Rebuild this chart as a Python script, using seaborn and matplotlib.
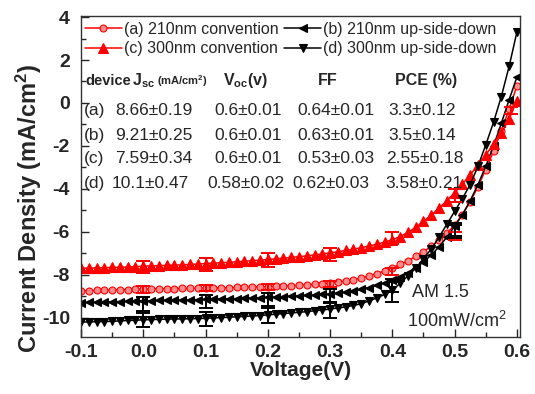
import numpy as np
import pandas as pd
import matplotlib
matplotlib.use("Agg")
import matplotlib.pyplot as plt
import seaborn as sns
from matplotlib.ticker import MultipleLocator

# ---------------- data ----------------
voltage = [-0.1, -0.0875, -0.075, -0.0625, -0.05, -0.0375, -0.025, -0.0125, 0.0,
           0.0125, 0.025, 0.0375, 0.05, 0.0625, 0.075, 0.0875, 0.1,
           0.1125, 0.125, 0.1375, 0.15, 0.1625, 0.175, 0.1875, 0.2,
           0.2125, 0.225, 0.2375, 0.25, 0.2625, 0.275, 0.2875,
           0.3, 0.3125, 0.325, 0.3375, 0.35, 0.3625, 0.375, 0.3875, 0.4,
           0.4125, 0.425, 0.4375, 0.45, 0.4625, 0.475, 0.4875, 0.5,
           0.5125, 0.525, 0.5375, 0.55, 0.5625, 0.575, 0.5875, 0.6]

j_a = [-8.75, -8.74, -8.73, -8.72, -8.71, -8.70, -8.69, -8.68, -8.67,
       -8.66, -8.66, -8.65, -8.65, -8.64, -8.63, -8.63, -8.62,
       -8.61, -8.61, -8.60, -8.59, -8.58, -8.57, -8.56, -8.55,
       -8.54, -8.53, -8.51, -8.49, -8.47, -8.45, -8.42,
       -8.38, -8.34, -8.29, -8.23, -8.15, -8.06, -7.95, -7.82, -7.68,
       -7.52, -7.35, -7.15, -6.93, -6.68, -6.40, -6.07, -5.68,
       -5.20, -4.60, -3.90, -3.10, -2.25, -1.30, -0.30, 0.80]

j_b = [-9.30, -9.29, -9.28, -9.27, -9.26, -9.25, -9.24, -9.23, -9.22,
       -9.21, -9.20, -9.20, -9.19, -9.18, -9.17, -9.16, -9.15,
       -9.14, -9.13, -9.12, -9.11, -9.10, -9.08, -9.07, -9.05,
       -9.04, -9.02, -9.00, -8.98, -8.96, -8.94, -8.92,
       -8.90, -8.86, -8.80, -8.74, -8.68, -8.60, -8.50, -8.38, -8.25,
       -8.10, -7.90, -7.68, -7.40, -7.08, -6.70, -6.25, -5.75,
       -5.20, -4.55, -3.80, -2.95, -2.00, -0.95, 0.15, 1.20]

j_c = [-7.70, -7.69, -7.68, -7.67, -7.66, -7.65, -7.64, -7.62, -7.60,
       -7.59, -7.58, -7.56, -7.55, -7.54, -7.52, -7.50, -7.48,
       -7.46, -7.44, -7.42, -7.40, -7.37, -7.35, -7.32, -7.29,
       -7.26, -7.23, -7.19, -7.16, -7.12, -7.08, -7.03,
       -6.98, -6.93, -6.87, -6.81, -6.74, -6.66, -6.58, -6.48, -6.37,
       -6.22, -6.03, -5.80, -5.52, -5.22, -4.90, -4.55, -4.18,
       -3.78, -3.35, -2.90, -2.42, -1.92, -1.40, -0.75, 0.10]

j_d = [-10.20, -10.20, -10.19, -10.18, -10.17, -10.15, -10.13, -10.12, -10.10,
       -10.09, -10.08, -10.07, -10.06, -10.06, -10.05, -10.04, -10.03,
       -10.01, -10.00, -9.98, -9.96, -9.94, -9.92, -9.90, -9.87,
       -9.84, -9.81, -9.78, -9.75, -9.72, -9.68, -9.64,
       -9.60, -9.55, -9.50, -9.43, -9.35, -9.22, -9.08, -8.92, -8.72,
       -8.40, -8.05, -7.70, -7.25, -6.80, -6.25, -5.65, -5.05,
       -4.45, -3.80, -2.95, -1.95, -0.90, 0.30, 1.70, 3.30]

labels = ["(a) 210nm convention", "(b) 210nm up-side-down",
          "(c) 300nm convention", "(d) 300nm up-side-down"]

# error bars (mean, half-width)
err_v = [0.0, 0.1, 0.2, 0.3, 0.4, 0.5]
err_v_c = [0.0, 0.1, 0.2, 0.3, 0.4, 0.5, 0.59]
err_mean_a = [-8.68, -8.62, -8.56, -8.42, -7.85, -6.2]
err_size_a = [0.15, 0.15, 0.15, 0.15, 0.15, 0.2]
err_mean_b = [-9.35, -9.25, -9.15, -8.95, -8.5, -6.0]
err_size_b = [0.32, 0.32, 0.32, 0.3, 0.3, 0.3]
err_mean_c = [-7.65, -7.52, -7.3, -7.05, -6.3, -4.3, -0.35]
err_size_c = [0.28, 0.3, 0.33, 0.3, 0.27, 0.3, 0.15]
err_mean_d = [-10.12, -10.05, -9.9, -9.65, -8.8, -5.9]
err_size_d = [0.33, 0.33, 0.33, 0.35, 0.45, 0.3]

# table text
table_header = ["device", r"$\mathbf{J_{sc}}$", r"(mA/cm$^\mathbf{2}$)", r"$\mathbf{V_{oc}}$(v)", "FF", "PCE (%)"]
table_rows = [
    ["(a)", "8.66\u00b10.19", "0.6\u00b10.01", "0.64\u00b10.01", "3.3\u00b10.12"],
    ["(b)", "9.21\u00b10.25", "0.6\u00b10.01", "0.63\u00b10.01", "3.5\u00b10.14"],
    ["(c)", "7.59\u00b10.34", "0.6\u00b10.01", "0.53\u00b10.03", "2.55\u00b10.18"],
    ["(d)", "10.1\u00b10.47", "0.58\u00b10.02", "0.62\u00b10.03", "3.58\u00b10.21"],
]

# ---------------- style ----------------
sns.set_style("ticks")
plt.rcParams["font.family"] = ["Liberation Sans", "DejaVu Sans"]
plt.rcParams["mathtext.fontset"] = "custom"
plt.rcParams["mathtext.rm"] = "Liberation Sans"
plt.rcParams["mathtext.it"] = "Liberation Sans:italic"
plt.rcParams["mathtext.bf"] = "Liberation Sans:bold"
plt.rcParams["axes.unicode_minus"] = False

W, H = 535, 394
fig = plt.figure(figsize=(W / 100, H / 100), dpi=100)
L, R, T, B = 81, 520, 16, 337
ax = fig.add_axes([L / W, 1 - B / H, (R - L) / W, (B - T) / H])

def fx(px):
    return (px - L) / (R - L)

def fy(py):
    return (B - py) / (B - T)

series = [
    (j_a, labels[0], "red", "o", 5.0, "#ff8c8c", err_v, err_mean_a, err_size_a),
    (j_b, labels[1], "black", "<", 6.0, "black", err_v, err_mean_b, err_size_b),
    (j_c, labels[2], "red", "^", 6.5, "red", err_v_c, err_mean_c, err_size_c),
    (j_d, labels[3], "black", "v", 6.0, "black", err_v, err_mean_d, err_size_d),
]

for j, lab, col, mk, ms, mfc, ev, em, es in series:
    df = pd.DataFrame({"V": voltage, "J": j})
    sns.lineplot(data=df, x="V", y="J", ax=ax, color=col, marker=mk,
                 markersize=ms, markerfacecolor=mfc, markeredgecolor=col,
                 markeredgewidth=0.8, linewidth=1.1, label=lab, errorbar=None)
    ax.errorbar(ev, em, yerr=es, fmt="none", ecolor=col, elinewidth=1.4,
                capsize=5, capthick=1.4, zorder=4)

ax.set_xlim(-0.1, 0.605)
ax.set_ylim(-10.9, 4.05)
ax.xaxis.set_major_locator(MultipleLocator(0.1))
ax.xaxis.set_minor_locator(MultipleLocator(0.05))
ax.yaxis.set_major_locator(MultipleLocator(2))
ax.yaxis.set_minor_locator(MultipleLocator(1))
ax.xaxis.set_major_formatter(matplotlib.ticker.FormatStrFormatter("%.1f"))
ax.tick_params(which="both", direction="in", top=False, right=False)
ax.tick_params(which="major", length=6, width=1)
ax.tick_params(which="minor", length=3.5, width=1)
ax.tick_params(axis="x", which="major", pad=5, labelsize=14)
ax.tick_params(axis="y", which="major", pad=8, labelsize=14)
for lbl in ax.get_xticklabels() + ax.get_yticklabels():
    lbl.set_fontweight("bold")
for s in ax.spines.values():
    s.set_linewidth(1.0)
    s.set_color("#333333")

ax.set_xlabel("Voltage(V)", fontsize=15, fontweight="bold", labelpad=0)
ax.set_ylabel(r"Current Density (mA/cm$^\mathbf{2}$)", fontsize=17, fontweight="bold")
ax.yaxis.set_label_coords(fx(44), fy(208))

# legend: order a, c (col 1), b, d (col 2)
h, l = ax.get_legend_handles_labels()
order = [0, 2, 1, 3]
ax.legend([h[i] for i in order], [l[i] for i in order], ncol=2, frameon=False,
          loc="upper left", bbox_to_anchor=(0.0, 0.995), borderaxespad=0.15,
          borderpad=0.1, fontsize=11.5, handlelength=2.3, handletextpad=0.15,
          columnspacing=0.35, labelspacing=0.3, numpoints=1)

# table
tkw = dict(transform=ax.transAxes, va="baseline", ha="left")
hy = fy(85)
hx = [85, 132, 157, 223, 318, 395]
hsize = [10.5, 11.5, 8, 11.5, 11.5, 11.5]
for x, t, sz in zip(hx, table_header, hsize):
    ax.text(fx(x), hy, t, fontsize=sz, fontweight="bold", **tkw)

row_y = [115, 140, 163.5, 188]
row_x = [[84, 115, 214, 297, 388],
         [84, 115, 214, 297, 388],
         [84, 115, 214, 297, 386],
         [84, 112, 207, 292, 385]]
for ry, rx, row in zip(row_y, row_x, table_rows):
    for x, t in zip(rx, row):
        ax.text(fx(x), fy(ry), t, fontsize=12.5, **tkw)

ax.text(fx(412), fy(297), "AM 1.5", fontsize=13, **tkw)
ax.text(fx(407), fy(327), r"100mW/cm$^2$", fontsize=13, **tkw)

fig.savefig("out.png", dpi=100)
